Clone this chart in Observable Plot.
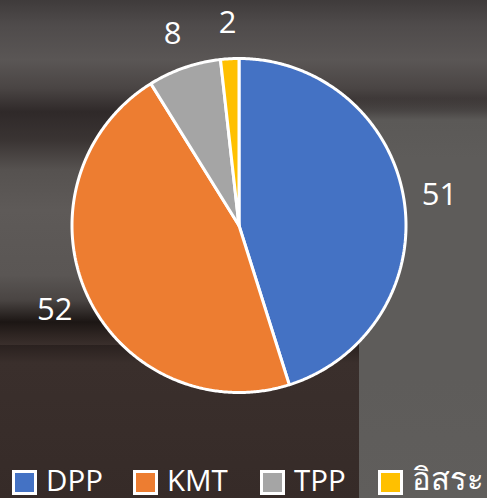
<!DOCTYPE html>
<html>
<head>
<meta charset="utf-8">
<script src="https://cdn.jsdelivr.net/npm/d3@7"></script>
<script src="https://cdn.jsdelivr.net/npm/@observablehq/plot@0.6"></script>
<style>
  html, body { margin: 0; padding: 0; }
  body {
    width: 487px; height: 498px; overflow: hidden; position: relative;
    font-family: "Open Sans", "Noto Sans", sans-serif;
    background:
      linear-gradient(to bottom, rgba(94,92,90,0) 0px, #5b5957 22px, #5e5c5a 60px, #5e5c5a 220px) 356px 98px / 131px 220px no-repeat,
      linear-gradient(to bottom, #5e5c5a, #5e5c5a 60px, #605e5c) 359px 318px / 128px 180px no-repeat,
      linear-gradient(to bottom, #2a211f 0px, #3a2f2c 18px, #362b28 153px) 0px 345px / 359px 153px no-repeat,
      linear-gradient(to bottom, #3f3b3b 0px, #4f4b4b 25px, #5a5655 60px, #4a4544 88px, #2f2929 112px, #3a3433 140px, #565250 170px, #5e5a58 210px, #5a5654 275px, #4a4543 300px, #1c1614 322px, #2e2522 335px, #3a2f2c 345px, #3a2f2c 498px);
  }
  #chart { position: absolute; left: 0; top: 0; }
  #legend { position: absolute; left: 12px; top: 460px; height: 38px; display: flex; align-items: center; color: #fff; font-size: 29.5px; white-space: nowrap; }
  .item { display: flex; align-items: center; }
  .sw { width: 19px; height: 19px; border: 3px solid #fff; margin-right: 9px; margin-top: 6px; flex: none; }
  .thai { font-size: 31px; }
</style>
</head>
<body>
<div id="chart"></div>
<div id="legend"></div>
<script>
const parties = ["DPP", "KMT", "TPP", "อิสระ"];
const seats = [51, 52, 8, 2];
const colors = ["#4472c4", "#ed7d31", "#a5a5a5", "#ffc000"];

const total = d3.sum(seats);
const slicePoints = [];
const labels = [];
let cum = 0;
parties.forEach((p, i) => {
  const a0 = cum / total * 2 * Math.PI;
  cum += seats[i];
  const a1 = cum / total * 2 * Math.PI;
  slicePoints.push({party: p, x: 0, y: 0});
  const n = Math.max(2, Math.ceil((a1 - a0) / (Math.PI / 360)));
  for (let k = 0; k <= n; k++) {
    const a = a0 + (a1 - a0) * k / n;
    slicePoints.push({party: p, x: Math.sin(a), y: Math.cos(a)});
  }
  slicePoints.push({party: p, x: 0, y: 0});
  const am = (a0 + a1) / 2;
  labels.push({party: p, value: seats[i], x: 1.215 * Math.sin(am), y: 1.215 * Math.cos(am)});
});

const chart = Plot.plot({
  width: 487,
  height: 460,
  marginLeft: 71.5,
  marginRight: 81.5,
  marginTop: 58,
  marginBottom: 68,
  x: {domain: [-1, 1], axis: null},
  y: {domain: [-1, 1], axis: null},
  color: {domain: parties, range: colors},
  style: {background: "transparent", overflow: "visible"},
  marks: [
    Plot.line(slicePoints, {x: "x", y: "y", z: "party", fill: "party", stroke: "white", strokeWidth: 3, strokeLinejoin: "miter", curve: "linear"}),
    Plot.text(labels, {x: "x", y: "y", text: d => String(d.value), fill: "white", fontSize: 31, fontFamily: "Open Sans, Noto Sans, sans-serif"})
  ]
});
document.getElementById("chart").appendChild(chart);

const itemWidths = [121, 127, 118, 100];
const legend = document.getElementById("legend");
parties.forEach((p, i) => {
  const item = document.createElement("div");
  item.className = "item";
  item.style.width = itemWidths[i] + "px";
  const sw = document.createElement("div");
  sw.className = "sw";
  sw.style.background = colors[i];
  const t = document.createElement("span");
  t.textContent = p;
  if (i === 3) t.className = "thai";
  item.appendChild(sw);
  item.appendChild(t);
  legend.appendChild(item);
});
</script>
</body>
</html>
